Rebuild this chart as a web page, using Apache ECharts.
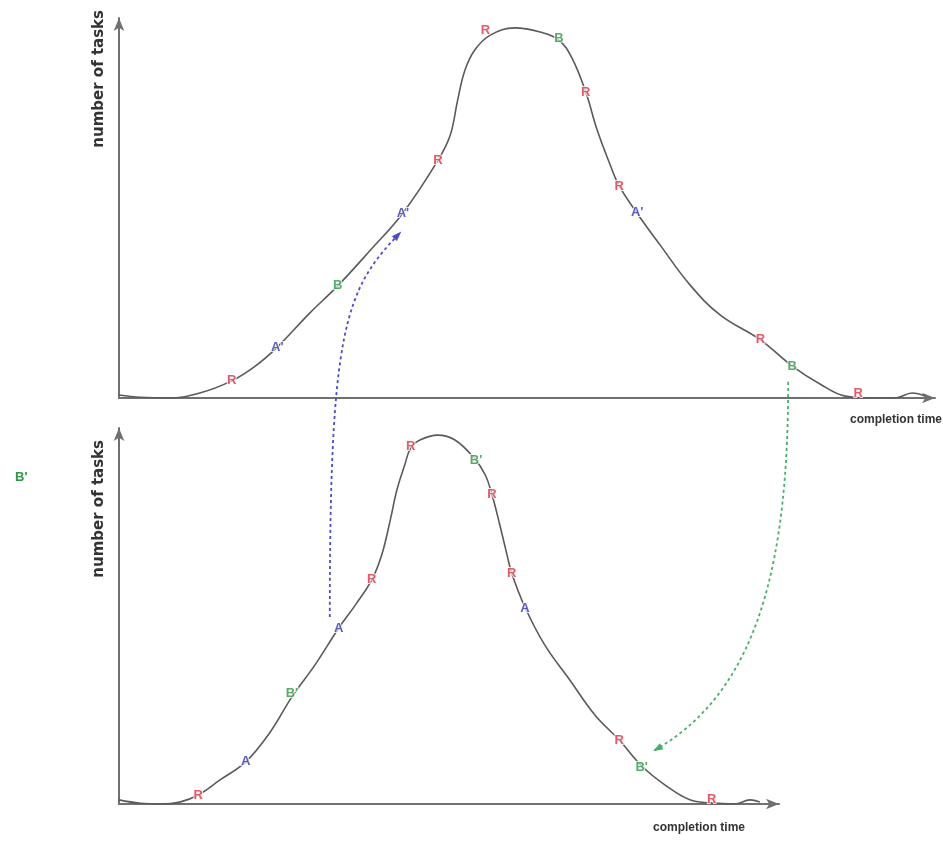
<!DOCTYPE html>
<html>
<head>
<meta charset="utf-8">
<script src="https://cdn.jsdelivr.net/npm/echarts@6/dist/echarts.min.js"></script>
<style>html,body{margin:0;padding:0;background:#fff}#main{width:943px;height:851px}</style>
</head>
<body>
<div id="main"></div>
<script>
// ---- Top panel: original schedule ----
const topCurveX = [0, 2.6, 6.1, 9.9, 13.8, 16.7, 19.4, 23.4, 26.8, 30.8, 34.8, 39.1, 40.6, 41.5, 42.4, 43.6, 45.5, 48.5, 51.6, 53.9, 55.5, 57.2, 58.6, 60.2, 61.3, 63.4, 66.3, 70.0, 73.7, 78.6, 82.5, 85.9, 89.0, 92.0, 95.1, 97.2, 98.8];
const topCurveY = [0.8, 0.2, 0, 1.3, 4.5, 8.4, 13.4, 22.4, 29.5, 38.9, 48.7, 62.6, 69.2, 78.4, 86.3, 91.6, 95.5, 97.4, 96.3, 94.2, 89.5, 80.5, 70.5, 61.3, 55.8, 48.9, 40.3, 29.7, 21.8, 15.3, 8.4, 3.7, 0.5, 0, 0, 1.3, 0.5];
const topMarkNames = ['R', "A'", 'B', "A'", 'R', 'R', 'B', 'R', 'R', "A'", 'R', 'B', 'R'];
const topMarkX = [13.8, 19.4, 26.8, 34.8, 39.1, 44.9, 53.9, 57.2, 61.3, 63.5, 78.6, 82.5, 90.6];
const topMarkY = [4.7, 13.4, 29.5, 48.7, 62.6, 96.8, 94.5, 80.5, 55.8, 48.9, 15.5, 8.2, 1.3];

// ---- Bottom panel: rescheduled ----
const botCurveX = [0, 3.2, 6.2, 9.2, 12.0, 15.3, 19.2, 22.9, 26.2, 29.7, 33.3, 35.8, 38.3, 39.8, 41.1, 42.1, 43.3, 44.2, 45.6, 48.3, 50.9, 53.8, 55.5, 56.5, 57.7, 58.8, 59.5, 61.5, 64.5, 68.3, 72.1, 75.8, 79.2, 82.7, 86.5, 89.5, 93.3, 95.6, 97.1];
const botCurveY = [1.1, 0.2, 0, 0.5, 2.4, 6.4, 11.2, 19.1, 28.5, 37.0, 46.8, 52.9, 59.6, 66.2, 75.5, 83.5, 90.2, 94.7, 96.8, 98.1, 96.8, 92.0, 87.5, 82.4, 74.2, 66.2, 61.4, 52.4, 42.3, 33.0, 23.7, 17.0, 10.1, 5.1, 1.1, 0.3, 0, 1.1, 0.5];
const botMarkNames = ['R', 'A', "B'", 'A', 'R', 'R', "B'", 'R', 'R', 'A', 'R', "B'", 'R'];
const botMarkX = [12.0, 19.2, 26.2, 33.3, 38.3, 44.2, 54.1, 56.5, 59.5, 61.5, 75.8, 79.2, 89.8];
const botMarkY = [2.4, 11.2, 29.3, 46.8, 59.6, 95.2, 91.5, 82.4, 61.4, 52.1, 17.0, 9.8, 1.1];

const axisTitleY = 'number of tasks';
const axisTitleX = 'completion time';

const letterColor = { R: '#e2303f', A: '#3333b8', B: '#2c9844' };
const axisGrey = '#707070';

function pairs(xs, ys) { return xs.map((x, i) => [x, ys[i]]); }
function marks(names, xs, ys) {
  return names.map((n, i) => ({
    value: [xs[i], ys[i]],
    name: n,
    label: { color: letterColor[n[0]] }
  }));
}

function xAxisCfg(gridIndex, nameGap, padTop) {
  return {
    type: 'value', gridIndex, min: 0, max: 100,
    name: axisTitleX, nameLocation: 'end', nameGap,
    nameTextStyle: { color: '#333', fontFamily: 'Liberation Sans', fontWeight: 'bold', fontSize: 12,
      align: 'right', verticalAlign: 'top', padding: [padTop, 0, 0, 0] },
    axisLine: { show: true, symbol: ['none', 'arrow'], symbolSize: [8, 13], lineStyle: { color: axisGrey, width: 2 } },
    axisTick: { show: false }, axisLabel: { show: false }, splitLine: { show: false }
  };
}
function yAxisCfg(gridIndex, nameGap) {
  return {
    type: 'value', gridIndex, min: 0, max: 100,
    name: axisTitleY, nameLocation: 'end', nameGap, nameRotate: 90,
    nameTextStyle: { color: '#333', fontFamily: 'DejaVu Sans', fontWeight: 'bold', fontSize: 15,
      align: 'right', verticalAlign: 'bottom', padding: [0, 0, 12, 0] },
    axisLine: { show: true, symbol: ['none', 'arrow'], symbolSize: [8, 13], lineStyle: { color: axisGrey, width: 2 } },
    axisTick: { show: false }, axisLabel: { show: false }, splitLine: { show: false }
  };
}

const markLabel = {
  show: true, position: 'inside', formatter: '{b}',
  fontFamily: 'Liberation Sans', fontWeight: 'bold', fontSize: 13,
  textBorderColor: '#fff', textBorderWidth: 2
};

const option = {
  animation: false,
  backgroundColor: '#fff',
  grid: [
    { left: 119, right: 8, top: 18, bottom: 453 },
    { left: 119, right: 164, top: 428, bottom: 47 }
  ],
  xAxis: [xAxisCfg(0, 7, 16), xAxisCfg(1, -34, 18)],
  yAxis: [yAxisCfg(0, 8), yAxisCfg(1, -12)],
  series: [
    { type: 'line', xAxisIndex: 0, yAxisIndex: 0, data: pairs(topCurveX, topCurveY), smooth: 0.4,
      showSymbol: false, lineStyle: { color: '#5a5a5a', width: 1.6 }, z: 2 },
    { type: 'line', xAxisIndex: 1, yAxisIndex: 1, data: pairs(botCurveX, botCurveY), smooth: 0.4,
      showSymbol: false, lineStyle: { color: '#5a5a5a', width: 1.6 }, z: 2 },
    { type: 'scatter', xAxisIndex: 0, yAxisIndex: 0, data: marks(topMarkNames, topMarkX, topMarkY),
      symbolSize: 1, itemStyle: { color: 'transparent' }, label: markLabel, z: 5 },
    { type: 'scatter', xAxisIndex: 1, yAxisIndex: 1, data: marks(botMarkNames, botMarkX, botMarkY),
      symbolSize: 1, itemStyle: { color: 'transparent' }, label: markLabel, z: 5 }
  ]
};

const chart = echarts.init(document.getElementById('main'), null, { renderer: 'canvas' });
chart.setOption(option);

// Dashed "moved task" arrows, anchored to the labelled tasks
function toPx(g, x, y) { return chart.convertToPixel({ gridIndex: g }, [x, y]); }
function arrowGraphics(S, P1, P2, E, color) {
  const dx = E[0] - P2[0], dy = E[1] - P2[1];
  const len = Math.sqrt(dx * dx + dy * dy) || 1;
  const ux = dx / len, uy = dy / len, nx = -uy, ny = ux;
  const tip = [E[0] + ux * 2, E[1] + uy * 2];
  const b1 = [E[0] - ux * 8 + nx * 3.5, E[1] - uy * 8 + ny * 3.5];
  const b2 = [E[0] - ux * 8 - nx * 3.5, E[1] - uy * 8 - ny * 3.5];
  return [
    { type: 'bezierCurve', silent: true, z: 10,
      shape: { x1: S[0], y1: S[1], cpx1: P1[0], cpy1: P1[1], cpx2: P2[0], cpy2: P2[1], x2: E[0], y2: E[1] },
      style: { stroke: color, lineWidth: 1.8, lineDash: [3, 3], fill: null } },
    { type: 'polygon', silent: true, z: 10, shape: { points: [tip, b1, b2] }, style: { fill: color } }
  ];
}

const aTop = toPx(0, topMarkX[3], topMarkY[3]);
const aBot = toPx(1, botMarkX[3], botMarkY[3]);
const bS = [aBot[0] - 9, aBot[1] - 11];
const bE = [aTop[0] - 3, aTop[1] + 20];
const bP1 = [bS[0], bS[1] - 0.747 * (bS[1] - bE[1])];
const bP2 = [bS[0] + 0.21 * (bE[0] - bS[0]), bE[1] + 0.148 * (bS[1] - bE[1])];

const gTop = toPx(0, topMarkX[11], topMarkY[11]);
const gBot = toPx(1, botMarkX[11], botMarkY[11]);
const gS = [gTop[0] - 4, gTop[1] + 15];
const gE = [gBot[0] + 13, gBot[1] - 17];
const gP1 = [gS[0], gS[1] + 0.48 * (gE[1] - gS[1])];
const gP2 = [gE[0] + 0.79 * (gS[0] - gE[0]), gE[1] - 60];

chart.setOption({
  graphic: [
    ...arrowGraphics(bS, bP1, bP2, bE, '#4a4ad6'),
    ...arrowGraphics(gS, gP1, gP2, gE, '#45b06a'),
    { type: 'text', left: 15, top: 471, silent: true,
      style: { text: "B'", fill: letterColor.B, font: 'bold 13px "Liberation Sans"' } }
  ]
});
</script>
</body>
</html>
